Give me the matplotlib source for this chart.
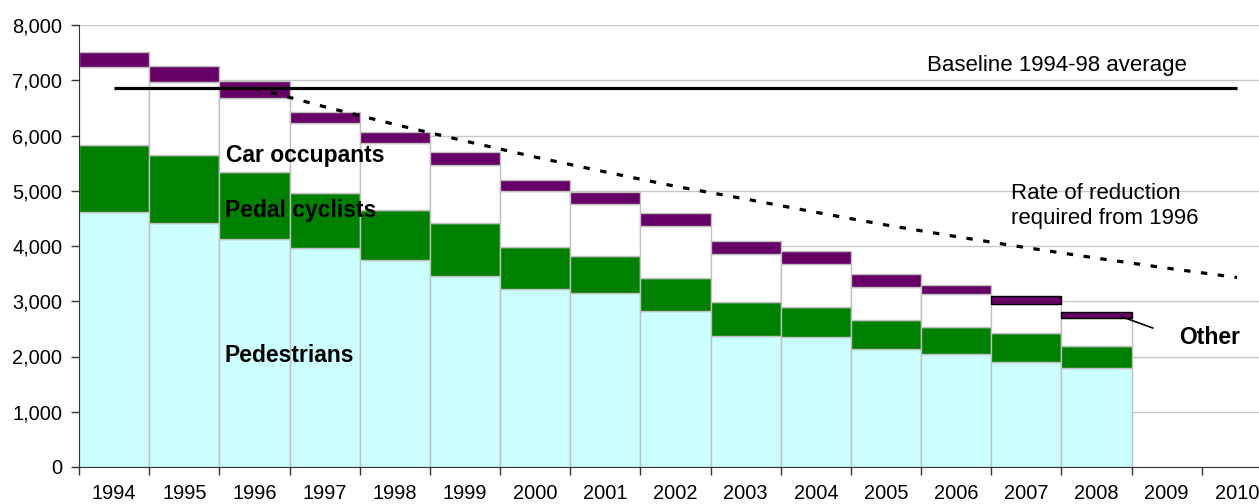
import matplotlib
matplotlib.use("Agg")
import matplotlib.pyplot as plt
import numpy as np

years = [str(y) for y in range(1994, 2011)]
bar_years = [str(y) for y in range(1994, 2009)]

# Top of each stacked segment, converted to segment sizes
pedestrians = [4620, 4410, 4120, 3970, 3745, 3457, 3220, 3143, 2824, 2377, 2347, 2142, 2040, 1906, 1798]
ped_cyc_top = [5830, 5650, 5345, 4965, 4650, 4410, 3976, 3825, 3427, 2980, 2900, 2660, 2528, 2425, 2184]
car_top     = [7245, 6975, 6685, 6230, 5860, 5466, 4995, 4760, 4368, 3855, 3674, 3252, 3125, 2950, 2690]
total       = [7517, 7260, 6985, 6430, 6060, 5695, 5195, 4983, 4590, 4096, 3910, 3487, 3300, 3095, 2805]

pedal_cyclists = [b - a for a, b in zip(pedestrians, ped_cyc_top)]
car_occupants = [b - a for a, b in zip(ped_cyc_top, car_top)]
other = [b - a for a, b in zip(car_top, total)]

baseline_value = 6860
baseline_years = ["1994", "2010"]

target_years = [str(y) for y in range(1996, 2011)]
target_values = [6860, 6520, 6200, 5900, 5610, 5340, 5080, 4850, 4610, 4380, 4170, 3970, 3780, 3600, 3430]

yticks = [0, 1000, 2000, 3000, 4000, 5000, 6000, 7000, 8000]

FONT = ["Liberation Sans", "DejaVu Sans"]
plt.rcParams["font.family"] = FONT

W, H = 1259, 504
fig = plt.figure(figsize=(W / 100, H / 100), dpi=100)
left_px, right_px, top_px, bottom_px = 79, 1272, 25, 467
ax = fig.add_axes([left_px / W, (H - bottom_px) / H, (right_px - left_px) / W, (bottom_px - top_px) / H])

xi = {y: i for i, y in enumerate(years)}
xb = np.array([xi[y] for y in bar_years])

edge = "#c0c0c0"
ax.bar(xb, pedestrians, width=1.0, color="#ccffff", edgecolor=edge, linewidth=1.0, zorder=2)
ax.bar(xb, pedal_cyclists, bottom=pedestrians, width=1.0, color="#008000", edgecolor=edge, linewidth=1.0, zorder=2)
ax.bar(xb, car_occupants, bottom=ped_cyc_top, width=1.0, color="#ffffff", edgecolor=edge, linewidth=1.0, zorder=2)
other_edges = [edge] * (len(bar_years) - 2) + ["#000000", "#000000"]
ax.bar(xb, other, bottom=car_top, width=1.0, color="#660066", edgecolor=other_edges, linewidth=1.0, zorder=3)

# Baseline and target lines
ax.plot([xi[y] for y in baseline_years], [baseline_value] * 2, color="black", lw=2.3, zorder=4,
        solid_capstyle="butt")
ax.plot([xi[y] for y in target_years], target_values, color="black", lw=2.3,
        linestyle=(0, (2.0, 3.3)), zorder=4)

ax.set_xlim(-0.5, len(years) - 0.5)
ax.set_ylim(0, 8000)
ax.set_yticks(yticks)
ax.set_yticklabels([f"{v:,}" for v in yticks], fontsize=14.4)
ax.set_xticks(np.arange(len(years)))
ax.set_xticklabels(years, fontsize=14.4)
ax.set_xticks(np.arange(len(years) + 1) - 0.5, minor=True)
ax.tick_params(axis="x", which="major", length=0, pad=12)
ax.tick_params(axis="x", which="minor", length=6, width=1, color="#333333")
ax.tick_params(axis="y", length=6, width=1, color="#333333", pad=6)
ax.grid(axis="y", color="#c8c8c8", lw=1.0, zorder=0)
ax.set_axisbelow(True)
for s in ["top", "right"]:
    ax.spines[s].set_visible(False)
ax.spines["left"].set_color("#333333")
ax.spines["bottom"].set_color("#333333")
ax.spines["left"].set_zorder(5)
ax.spines["bottom"].set_zorder(5)

# Annotations
ax.text(1.60, 5640, "Car occupants", fontsize=16.5, fontweight="bold", va="center", ha="left", zorder=6)
ax.text(1.58, 4640, "Pedal cyclists", fontsize=16.5, fontweight="bold", va="center", ha="left", zorder=6)
ax.text(1.58, 2020, "Pedestrians", fontsize=16.5, fontweight="bold", va="center", ha="left", zorder=6)
ax.text(11.58, 7276, "Baseline 1994-98 average", fontsize=16, va="center", ha="left", zorder=6)
ax.text(12.78, 4720, "Rate of reduction\nrequired from 1996", fontsize=16, va="center", ha="left",
        linespacing=1.25, zorder=6)
ax.text(15.17, 2335, "Other", fontsize=16.5, fontweight="bold", va="center", ha="left", zorder=6)
ax.plot([14.37, 14.80], [2715, 2516], color="black", lw=1.2, zorder=6)

fig.savefig("out.png", dpi=100)
